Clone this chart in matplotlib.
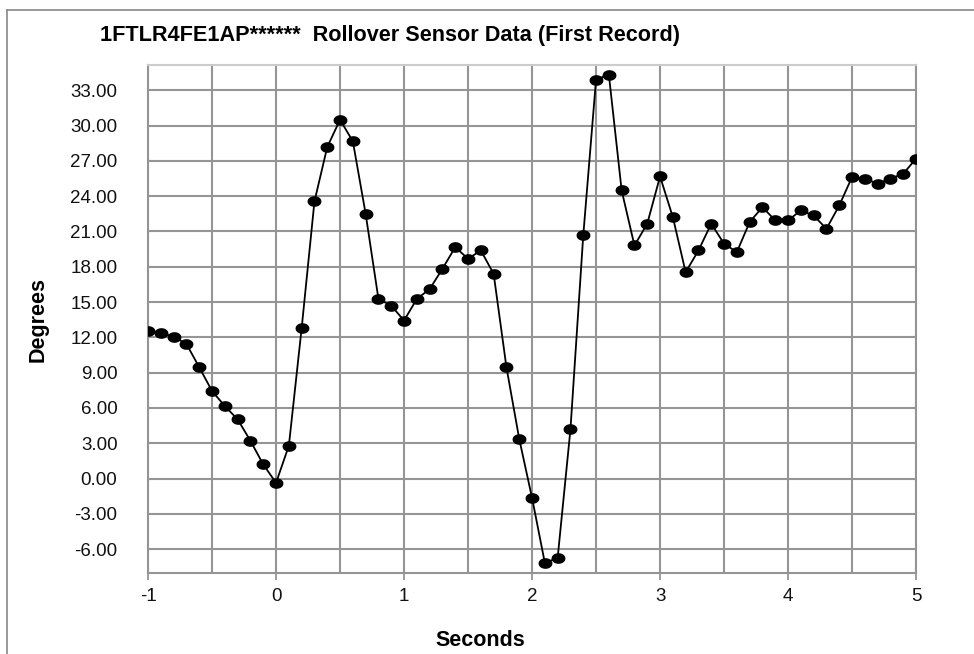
import numpy as np
import matplotlib.pyplot as plt
from matplotlib.lines import Line2D

plt.rcParams['font.family'] = ['Liberation Sans', 'DejaVu Sans']
plt.rcParams['axes.unicode_minus'] = False

seconds = np.round(np.arange(-1.0, 5.01, 0.1), 1)
degrees = [12.57, 12.40, 12.06, 11.44, 9.46, 7.44, 6.16, 5.03, 3.21, 1.20,
           -0.36, 2.79, 12.78, 23.55, 28.18, 30.50, 28.66, 22.50, 15.27, 14.70,
           13.43, 15.27, 16.10, 17.83, 19.67, 18.68, 19.39, 17.40, 9.46, 3.36,
           -1.64, -7.17, -6.74, 4.18, 20.66, 33.91, 34.34, 24.49, 19.81, 21.66,
           25.68, 22.22, 17.54, 19.39, 21.66, 19.96, 19.25, 21.80, 23.07, 21.94,
           21.94, 22.79, 22.36, 21.23, 23.21, 25.63, 25.49, 25.06, 25.49, 25.91,
           27.19]
x_ticks = [-1, 0, 1, 2, 3, 4, 5]
y_ticks = np.arange(-6, 34, 3)

fig = plt.figure(figsize=(9.74, 6.54), dpi=100)
ax = fig.add_axes([0.152, 0.1243, 0.7885, 0.7763])

# flattened dot marker
t = np.linspace(0, 2 * np.pi, 40)
dot = np.column_stack([1.35 * np.cos(t), np.sin(t)])

ax.plot(seconds, degrees, color='black', lw=1.3, marker=dot, ms=9,
        mfc='black', mec='black', zorder=3)

ax.set_xlim(-1, 5)
ax.set_ylim(-8, 35.15)
ax.set_xticks(x_ticks)
ax.set_xticks(np.arange(-0.5, 5, 1.0), minor=True)
ax.set_yticks(y_ticks)
ax.set_yticklabels(['%.2f' % v for v in y_ticks])
ax.grid(True, which='both', color='#959595', lw=1.5)
ax.set_axisbelow(True)
ax.tick_params(axis='x', which='major', length=5, width=1.3, color='#959595',
               pad=6, labelsize=13.5, labelcolor='#111111')
ax.tick_params(axis='x', which='minor', length=0)
ax.tick_params(axis='y', length=0, pad=22, labelsize=13.5, labelcolor='#111111')
for s in ax.spines.values():
    s.set_color('#959595')
    s.set_linewidth(1.5)
ax.spines['top'].set_color('#cccccc')

fig.text(100 / 974, 1 - 35 / 654, '1FTLR4FE1AP******  Rollover Sensor Data (First Record)',
         fontsize=15.6, fontweight='bold', ha='left', va='center')
fig.text(38 / 974, 1 - 320 / 654, 'Degrees', fontsize=15.5, fontweight='bold',
         rotation=90, ha='center', va='center')
fig.text(480 / 974, 1 - 640 / 654, 'Seconds', fontsize=15.5, fontweight='bold',
         ha='center', va='center')

# outer frame
fig.add_artist(Line2D([7 / 974, 7 / 974], [0, 1 - 10 / 654], transform=fig.transFigure,
                      color='#888888', lw=1.2))
fig.add_artist(Line2D([7 / 974, 1], [1 - 10 / 654, 1 - 10 / 654], transform=fig.transFigure,
                      color='#888888', lw=1.2))

fig.savefig('out.png', dpi=100)
